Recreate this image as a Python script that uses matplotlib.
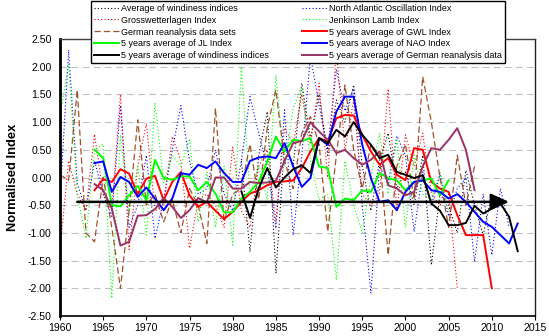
import numpy as np
import matplotlib
matplotlib.use("Agg")
import matplotlib.pyplot as plt

plt.rcParams['font.family'] = ['Liberation Sans', 'DejaVu Sans']

# ---------------- data ----------------
years_wind = np.arange(1981, 2011)
wind = [0.30, -1.34, 0.40, 1.19, -1.73, 0.60, 0.20, 1.70, 0.70, 1.50,
        0.40, 1.40, 1.00, 1.67, 0.20, -0.60, 0.30, 0.80, -0.20, 0.10,
        -0.50, 0.40, -1.58, -0.30, -0.50, -1.00, 0.13, -0.50, -1.04, -0.30]

years_nao = np.arange(1960, 2013)
nao = [-0.40, 2.30, -0.10, -0.60, 0.30, -0.30, -0.70, 1.30, -0.90, -0.50,
       0.40, -1.10, -0.40, 0.50, 1.30, 0.30, -0.30, -0.20, 0.50, -0.30,
       -0.60, 0.30, 1.46, 0.80, 0.20, -0.92, 1.22, -1.04, 0.40, 2.20,
       1.30, 0.50, 1.95, 1.20, 1.60, -0.50, -2.09, 0.20, -0.10, 0.75,
       0.40, -0.98, 0.10, -0.50, 0.05, -0.70, -0.20, 0.00, -1.52, -0.30,
       -1.40, -0.20, -0.90]

years_gwl = np.arange(1960, 2007)
gwl = [-1.30, 0.30, -0.30, -0.60, 0.78, -0.30, -0.60, 1.50, -1.30, 0.20,
       0.98, -0.60, -0.50, 0.74, 0.30, -1.28, -0.40, -0.30, -0.50, -0.90,
       0.56, -0.60, -0.90, 0.20, 0.50, -0.80, 0.90, 0.60, 1.50, 0.60,
       1.70, 0.00, 2.30, 0.50, 1.40, -0.30, -0.50, -0.30, 1.60, -0.60,
       0.77, 0.20, 0.80, -0.30, -0.50, -0.30, -2.00]

years_jl = np.arange(1960, 2006)
jl = [1.10, 2.05, -0.30, -1.10, 0.50, 0.60, -2.18, 0.77, -0.60, 0.20,
      -1.04, 1.35, -0.10, 0.40, 0.20, 0.70, -0.80, 0.10, -0.90, 0.20,
      -1.22, 2.00, -0.30, 0.20, -0.40, 1.85, 0.20, 1.25, 1.64, 0.30,
      -0.40, -0.30, -1.85, 0.30, -0.50, -1.00, 0.00, 0.80, -0.30, 0.70,
      -0.90, 0.40, -0.30, -0.40, 0.10, -0.60]

years_ger = np.arange(1960, 2009)
ger = [0.05, -0.05, 1.58, -1.00, -1.16, 0.00, -0.90, -2.00, -0.60, 1.04,
       -0.50, -0.30, -0.80, -0.40, -1.00, -0.20, -0.50, -1.19, 1.25, -0.80,
       -0.30, -0.20, 0.60, -0.40, 0.90, 1.58, 0.30, -0.20, 0.80, 1.10,
       0.60, -0.98, 0.40, 1.67, 0.50, -0.20, 0.60, 0.40, -1.40, 0.20,
       0.60, -0.40, 1.82, 1.00, 0.00, -0.90, 0.40, -0.50, 0.20]

years_gwl5 = np.arange(1964, 2011)
gwl5 = [-0.23, -0.03, -0.08, 0.15, 0.07, -0.30, -0.02, 0.03, -0.41, -0.08,
        0.10, -0.32, -0.53, -0.44, -0.60, -0.75, -0.62, -0.44, -0.29, -0.23,
        -0.14, -0.08, -0.07, -0.05, 0.17, 0.47, 0.71, 0.65, 1.07, 1.13,
        1.12, 0.77, 0.47, 0.23, 0.35, 0.05, -0.05, 0.53, 0.50, -0.08,
        -0.20, -0.26, -0.68, -1.04, -1.04, -1.04, -2.00]

years_jl5 = np.arange(1964, 2006)
jl5 = [0.50, 0.35, -0.50, -0.52, -0.32, -0.15, -0.41, 0.32, -0.01, -0.04,
       0.02, 0.02, -0.23, -0.08, -0.29, -0.63, -0.63, -0.38, -0.26, -0.08,
       0.29, 0.74, 0.47, 0.68, 0.66, 0.71, 0.20, 0.17, -0.53, -0.38,
       -0.41, -0.23, -0.26, 0.08, -0.01, -0.05, -0.23, -0.08, -0.05, -0.02,
       -0.32, -0.05]

years_nao5 = np.arange(1964, 2014)
nao5 = [0.26, 0.29, -0.26, 0.01, -0.08, -0.35, -0.18, -0.38, -0.59, -0.38,
        0.08, 0.05, 0.23, 0.17, 0.29, 0.08, -0.08, -0.08, 0.30, 0.36,
        0.38, 0.35, 0.62, 0.20, -0.17, -0.01, 0.71, 0.59, 1.19, 1.46,
        1.46, 0.59, -0.01, -0.44, -0.41, -0.59, -0.26, -0.08, -0.05, -0.23,
        -0.26, -0.38, -0.30, -0.44, -0.62, -0.80, -0.89, -1.04, -1.19, -0.83]

years_wind5 = np.arange(1981, 2014)
wind5 = [-0.25, -0.73, -0.20, 0.17, -0.18, 0.00, 0.15, 0.22, 0.08, 0.71,
         0.62, 0.86, 0.74, 1.00, 0.77, 0.59, 0.35, 0.41, 0.10, 0.05,
         -0.01, 0.04, -0.47, -0.60, -0.86, -0.86, -0.82, -0.51, -0.65, -0.56,
         -0.47, -0.71, -1.33]

years_ger5 = np.arange(1964, 2009)
ger5 = [-0.12, -0.23, -0.56, -1.23, -1.16, -0.69, -0.68, -0.57, -0.37, -0.53,
        -0.73, -0.59, -0.37, -0.45, 0.00, 0.00, -0.20, -0.20, -0.08, -0.10,
        -0.09, -0.06, 0.30, 0.62, 0.66, 1.00, 0.83, 0.68, 0.44, 0.50,
        0.35, 0.23, 0.32, 0.47, -0.14, -0.20, -0.32, -0.26, 0.20, 0.53,
        0.50, 0.68, 0.89, 0.50, -0.23]

trend_start, trend_end, trend_level = 1962, 2012, -0.44

labels = ["Average of windiness indices", "North Atlantic Oscillation Index",
          "Grosswetterlagen Index", "Jenkinson Lamb Index",
          "German reanalysis data sets", "5 years average of GWL Index",
          "5 years average of JL Index", "5 years average of NAO Index",
          "5 years average of windiness indices",
          "5 years average of German reanalysis data"]

# ---------------- figure ----------------
fig = plt.figure(figsize=(5.49, 3.36), dpi=100)
ax = fig.add_axes([60/549, 1-316/336, (535-60)/549, (316-39)/336])

dot = (0, (1, 2))
BROWN = '#A0522D'
PURPLE = '#993366'
GREEN = '#00FF00'

h = {}
h[0], = ax.plot(years_wind, wind, color='black', lw=0.8, linestyle=dot)
h[1], = ax.plot(years_nao, nao, color='#0000FF', lw=0.8, linestyle=dot)
h[2], = ax.plot(years_gwl, gwl, color='#FF0000', lw=0.8, linestyle=dot)
h[3], = ax.plot(years_jl, jl, color=GREEN, lw=0.8, linestyle=dot)
h[4], = ax.plot(years_ger, ger, color=BROWN, lw=0.9, linestyle=(0, (5, 2.5)))
h[5], = ax.plot(years_gwl5, gwl5, color='#FF0000', lw=1.4)
h[6], = ax.plot(years_jl5, jl5, color=GREEN, lw=1.4)
h[7], = ax.plot(years_nao5, nao5, color='#0000FF', lw=1.4)
h[9], = ax.plot(years_ger5, ger5, color=PURPLE, lw=1.4)
h[8], = ax.plot(years_wind5, wind5, color='black', lw=1.4)

ax.annotate('', xy=(trend_end, trend_level), xytext=(trend_start, trend_level),
            arrowprops=dict(arrowstyle='-|>,head_length=1.1,head_width=0.5',
                            mutation_scale=10, lw=1.8, color='black',
                            shrinkA=0, shrinkB=0))

ax.set_xlim(1960, 2015)
ax.set_ylim(-2.5, 2.5)
ax.set_xticks(np.arange(1960, 2016, 5))
ax.set_yticks(np.arange(-2.5, 2.51, 0.5))
ax.set_yticklabels([f"{v:.2f}" for v in np.arange(-2.5, 2.51, 0.5)])
ax.tick_params(axis='both', labelsize=7.6, colors='black', length=3, width=0.8)
ax.tick_params(axis='y', length=0, pad=6)
ax.tick_params(axis='x', direction='out', pad=2)

ax.yaxis.grid(True, color='#C0C0C0', linestyle=(0, (6, 4)), lw=0.8)
ax.set_axisbelow(True)
ax.spines['left'].set_linewidth(2.0)
ax.spines['left'].set_color('black')
ax.spines['bottom'].set_linewidth(1.2)
ax.spines['bottom'].set_color('black')
ax.spines['top'].set_linewidth(1.0)
ax.spines['top'].set_color('#404040')
ax.spines['right'].set_linewidth(1.0)
ax.spines['right'].set_color('#202020')

ax.set_ylabel("Normalised Index", fontsize=9.3, fontweight='bold', labelpad=6)

order = [0, 2, 4, 6, 8, 1, 3, 5, 7, 9]
leg = fig.legend([h[i] for i in order], [labels[i] for i in order],
                 ncol=2, loc='lower left', mode='expand',
                 bbox_to_anchor=(91/549, 1-63/336, (505-91)/549, 62/336),
                 bbox_transform=fig.transFigure,
                 fontsize=6.5, frameon=True, fancybox=False, framealpha=1,
                 edgecolor='black', handlelength=2.8, handletextpad=0.25,
                 labelspacing=0.32, borderpad=0.3, columnspacing=1.0,
                 borderaxespad=0)
leg.get_frame().set_linewidth(1.0)

fig.savefig("out.png", dpi=100)
